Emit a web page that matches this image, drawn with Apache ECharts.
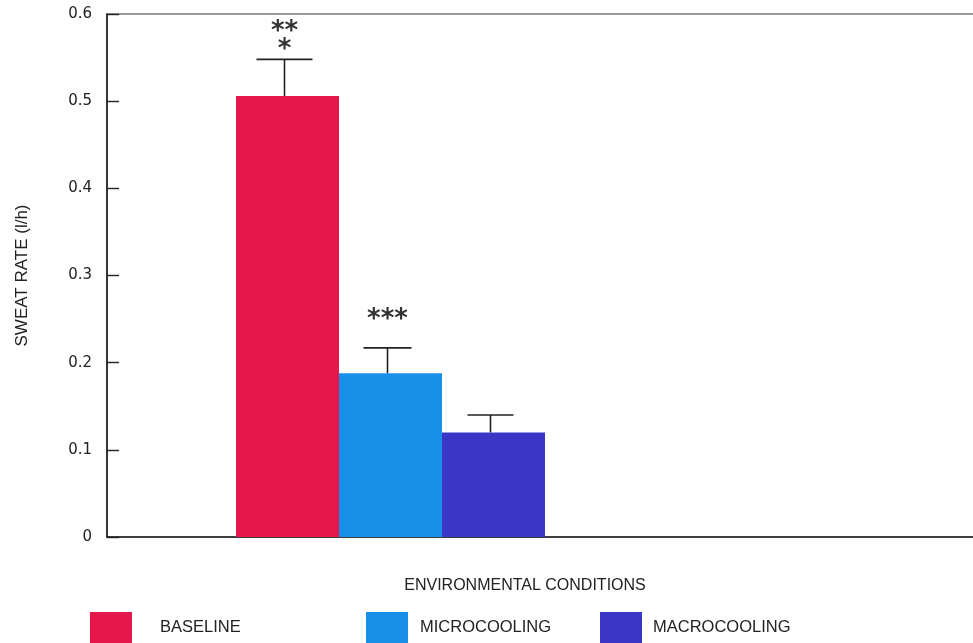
<!DOCTYPE html>
<html>
<head>
<meta charset="utf-8">
<script src="https://cdn.jsdelivr.net/npm/echarts@6/dist/echarts.min.js"></script>
<style>
html,body{margin:0;padding:0;background:#fff;}
#chart{width:973px;height:643px;}
</style>
</head>
<body>
<div id="chart"></div>
<script>
// ---- data ----
const categories = ['', ''];
const seriesNames = ['BASELINE', 'MICROCOOLING', 'MACROCOOLING'];
const means = [0.506, 0.188, 0.120];
const errTops = [0.548, 0.217, 0.140];
const stars = ['**\n*', '***', ''];
const yTicks = [0, 0.1, 0.2, 0.3, 0.4, 0.5, 0.6];

// ---- styles ----
const colors = ['#E5174B', '#1890E8', '#3A36C6'];
const BAR_W = 103;
const CAP_HALF = [28, 24, 23];
const STAR_GAP = [0, 19, 0];
const FONT = '"Liberation Sans", Arial, sans-serif';

const chart = echarts.init(document.getElementById('chart'));

const barSeries = seriesNames.map((name, i) => ({
  name: name,
  type: 'bar',
  barWidth: BAR_W,
  barGap: '0%',
  itemStyle: { color: colors[i] },
  data: categories.map((c, k) => (k === 0 ? means[i] : null)),
  z: 2
}));

const errData = means.map((m, i) => [0, errTops[i], m, i]);

const errSeries = {
  type: 'custom',
  z: 5,
  silent: true,
  data: errData,
  renderItem: function (params, api) {
    const i = api.value(3);
    const topPt = api.coord([api.value(0), api.value(1)]);
    const basePt = api.coord([api.value(0), api.value(2)]);
    const x = topPt[0] + (i - 1) * BAR_W - 3;
    const st = { stroke: '#222', lineWidth: 1.6 };
    const children = [
      { type: 'line', shape: { x1: x, y1: basePt[1], x2: x, y2: topPt[1] }, style: st },
      { type: 'line', shape: { x1: x - CAP_HALF[i], y1: topPt[1], x2: x + CAP_HALF[i], y2: topPt[1] }, style: st }
    ];
    if (stars[i]) {
      children.push({
        type: 'text',
        style: {
          text: stars[i],
          x: x,
          y: topPt[1] - STAR_GAP[i],
          align: 'center',
          verticalAlign: 'bottom',
          font: 'bold 26px "DejaVu Sans", sans-serif',
          lineHeight: 18,
          fill: '#333'
        }
      });
    }
    return { type: 'group', children: children };
  }
};

function mkLegend(i, left, textPad) {
  return {
    data: [seriesNames[i]],
    left: left,
    top: 612,
    padding: 0,
    itemWidth: 42,
    itemHeight: 31,
    icon: 'rect',
    selectedMode: false,
    textStyle: { fontFamily: FONT, fontSize: 16.5, color: '#222', padding: [0, 0, 0, textPad] }
  };
}

chart.setOption({
  backgroundColor: '#fff',
  animation: false,
  title: {
    text: 'ENVIRONMENTAL CONDITIONS',
    left: 525,
    top: 578,
    textAlign: 'center',
    padding: 0,
    textStyle: { fontFamily: FONT, fontSize: 16, fontWeight: 'normal', color: '#222' }
  },
  legend: [mkLegend(0, 90, 23), mkLegend(1, 366, 7), mkLegend(2, 600, 6)],
  grid: {
    left: 107, top: 14, bottom: 106, width: 1134,
    outerBoundsMode: 'none',
    containLabel: false,
    show: true, borderColor: '#333', borderWidth: 1.2, backgroundColor: 'transparent'
  },
  xAxis: {
    type: 'category',
    data: categories,
    axisLine: { lineStyle: { color: '#222', width: 1.6 } },
    axisTick: { show: false },
    axisLabel: { show: false },
    splitLine: { show: false }
  },
  yAxis: {
    type: 'value',
    min: yTicks[0],
    max: yTicks[yTicks.length - 1],
    interval: 0.1,
    name: 'SWEAT RATE (l/h)',
    nameLocation: 'middle',
    nameRotate: 90,
    nameGap: 76,
    nameTextStyle: { fontFamily: FONT, fontSize: 17, color: '#222' },
    axisLine: { show: true, lineStyle: { color: '#222', width: 1.6 } },
    axisTick: { show: true, inside: true, length: 12, lineStyle: { color: '#222', width: 1.4 } },
    axisLabel: { fontFamily: '"DejaVu Sans", sans-serif', fontSize: 15, color: '#222', margin: 15,
      formatter: v => String(Math.round(v * 10) / 10) },
    splitLine: { show: false }
  },
  series: barSeries.concat([errSeries])
});
</script>
</body>
</html>
